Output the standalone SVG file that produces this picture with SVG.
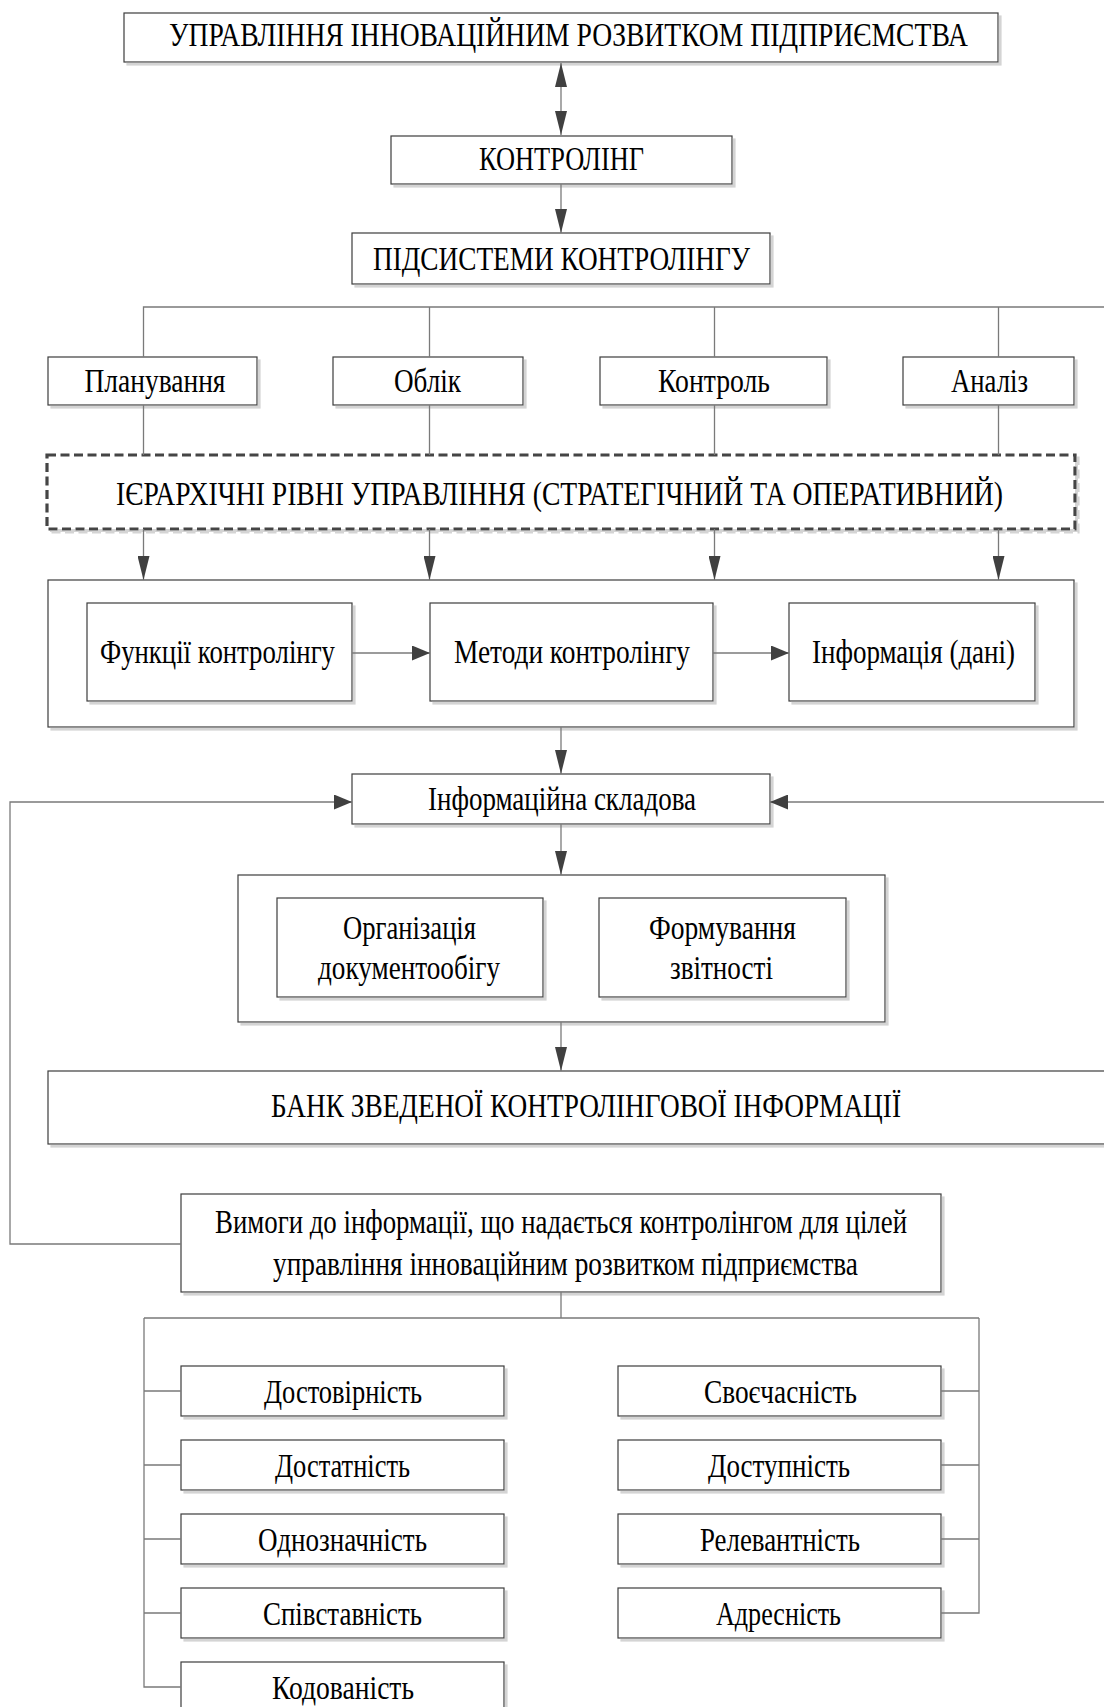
<svg xmlns="http://www.w3.org/2000/svg" width="1104" height="1707" viewBox="0 0 1104 1707">
<style>
  .bx{fill:#fff;stroke:#3c3c3c;stroke-width:1.2;filter:url(#sh)}
  .dash{fill:#fff;stroke:#454545;stroke-width:3.2;stroke-dasharray:9 4.5;filter:url(#sh)}
  .t{font-family:"Liberation Serif","Times New Roman",serif;font-size:33px;fill:#000}
  .c{fill:none;stroke:#7a7a7a;stroke-width:1.3}
  .av{marker-end:url(#mv)}
  .ah{marker-end:url(#mh)}
</style>
<defs>
  <filter id="sh" x="-5%" y="-5%" width="110%" height="130%">
    <feFlood flood-color="#d4d4d4" result="f"/>
    <feComposite in="f" in2="SourceAlpha" operator="in" result="s"/>
    <feOffset in="s" dx="3" dy="3" result="o"/>
    <feMerge><feMergeNode in="o"/><feMergeNode in="SourceGraphic"/></feMerge>
  </filter>
  <marker id="mv" markerUnits="userSpaceOnUse" markerWidth="24" markerHeight="12" refX="24" refY="6" orient="auto">
    <path d="M0,0 L24,6 L0,12 z" fill="#404040"/>
  </marker>
  <marker id="mvs" markerUnits="userSpaceOnUse" markerWidth="24" markerHeight="12" refX="24" refY="6" orient="auto-start-reverse">
    <path d="M0,0 L24,6 L0,12 z" fill="#404040"/>
  </marker>
  <marker id="mh" markerUnits="userSpaceOnUse" markerWidth="18" markerHeight="15" refX="18" refY="7.5" orient="auto">
    <path d="M0,0 L18,7.5 L0,15 z" fill="#404040"/>
  </marker>
</defs>
<rect width="1104" height="1707" fill="#fff"/>

<g id="n-top"><rect class="bx" x="124" y="13" width="874" height="49"/><text class="t" transform="scale(0.8,1)" x="211.25" y="46" textLength="998.75" lengthAdjust="spacingAndGlyphs">УПРАВЛІННЯ ІННОВАЦІЙНИМ РОЗВИТКОМ ПІДПРИЄМСТВА</text></g>
<g id="n-kontroling"><rect class="bx" x="391" y="136" width="341" height="48"/><text class="t" x="479" y="170" textLength="165" lengthAdjust="spacingAndGlyphs">КОНТРОЛІНГ</text></g>
<g id="n-pidsystemy"><rect class="bx" x="352" y="233" width="418" height="51"/><text class="t" x="373" y="270" textLength="377" lengthAdjust="spacingAndGlyphs">ПІДСИСТЕМИ КОНТРОЛІНГУ</text></g>

<g id="n-planuvannia"><rect class="bx" x="48" y="357" width="209" height="48"/><text class="t" x="84.5" y="392" textLength="141" lengthAdjust="spacingAndGlyphs">Планування</text></g>
<g id="n-oblik"><rect class="bx" x="333" y="357" width="190" height="48"/><text class="t" x="394" y="392" textLength="67" lengthAdjust="spacingAndGlyphs">Облік</text></g>
<g id="n-kontrol"><rect class="bx" x="600" y="357" width="227" height="48"/><text class="t" x="658" y="392" textLength="112" lengthAdjust="spacingAndGlyphs">Контроль</text></g>
<g id="n-analiz"><rect class="bx" x="903" y="357" width="171" height="48"/><text class="t" x="951" y="392" textLength="77" lengthAdjust="spacingAndGlyphs">Аналіз</text></g>

<g id="n-ierarkhia"><rect class="dash" x="47" y="455" width="1028" height="74"/><text class="t" transform="scale(0.8,1)" x="145" y="505" textLength="1108.75" lengthAdjust="spacingAndGlyphs">ІЄРАРХІЧНІ РІВНІ УПРАВЛІННЯ (СТРАТЕГІЧНИЙ ТА ОПЕРАТИВНИЙ)</text></g>

<g id="n-container1"><rect class="bx" x="48" y="580" width="1026" height="147"/></g>
<g id="n-funkcii"><rect class="bx" x="87" y="603" width="265" height="98"/><text class="t" x="100" y="663" textLength="235" lengthAdjust="spacingAndGlyphs">Функції контролінгу</text></g>
<g id="n-metody"><rect class="bx" x="430" y="603" width="283" height="98"/><text class="t" x="454" y="663" textLength="236" lengthAdjust="spacingAndGlyphs">Методи контролінгу</text></g>
<g id="n-informatsiia"><rect class="bx" x="789" y="603" width="246" height="98"/><text class="t" x="812" y="663" textLength="203" lengthAdjust="spacingAndGlyphs">Інформація (дані)</text></g>

<g id="n-infoskladova"><rect class="bx" x="352" y="774" width="418" height="50"/><text class="t" x="428" y="810" textLength="268" lengthAdjust="spacingAndGlyphs">Інформаційна складова</text></g>

<g id="n-container2"><rect class="bx" x="238" y="875" width="647" height="147"/></g>
<g id="n-organizatsiia"><rect class="bx" x="277" y="898" width="266" height="99"/><text class="t" x="343" y="939" textLength="133" lengthAdjust="spacingAndGlyphs">Організація</text><text class="t" x="318" y="979" textLength="182" lengthAdjust="spacingAndGlyphs">документообігу</text></g>
<g id="n-formuvannia"><rect class="bx" x="599" y="898" width="247" height="99"/><text class="t" x="649" y="939" textLength="147" lengthAdjust="spacingAndGlyphs">Формування</text><text class="t" x="670" y="979" textLength="103" lengthAdjust="spacingAndGlyphs">звітності</text></g>

<g id="n-bank"><rect class="bx" x="48" y="1071" width="1070" height="73"/><text class="t" x="271" y="1117" textLength="630" lengthAdjust="spacingAndGlyphs">БАНК ЗВЕДЕНОЇ КОНТРОЛІНГОВОЇ ІНФОРМАЦІЇ</text></g>

<g id="n-vymogy"><rect class="bx" x="181" y="1194" width="760" height="98"/><text class="t" x="215" y="1233" textLength="692" lengthAdjust="spacingAndGlyphs">Вимоги до інформації, що надається контролінгом для цілей</text><text class="t" x="273" y="1275" textLength="585" lengthAdjust="spacingAndGlyphs">управління інноваційним розвитком підприємства</text></g>

<g id="n-dostovirnist"><rect class="bx" x="181" y="1366" width="323" height="50"/><text class="t" x="264" y="1403" textLength="158" lengthAdjust="spacingAndGlyphs">Достовірність</text></g>
<g id="n-dostatnist"><rect class="bx" x="181" y="1440" width="323" height="50"/><text class="t" x="275" y="1477" textLength="135" lengthAdjust="spacingAndGlyphs">Достатність</text></g>
<g id="n-odnoznachnist"><rect class="bx" x="181" y="1514" width="323" height="50"/><text class="t" x="258" y="1551" textLength="169" lengthAdjust="spacingAndGlyphs">Однозначність</text></g>
<g id="n-spivstavnist"><rect class="bx" x="181" y="1588" width="323" height="50"/><text class="t" x="263" y="1625" textLength="159" lengthAdjust="spacingAndGlyphs">Співставність</text></g>
<g id="n-kodovanist"><rect class="bx" x="181" y="1662" width="323" height="50"/><text class="t" x="272" y="1699" textLength="142" lengthAdjust="spacingAndGlyphs">Кодованість</text></g>

<g id="n-svoiechasnist"><rect class="bx" x="618" y="1366" width="323" height="50"/><text class="t" x="704" y="1403" textLength="153" lengthAdjust="spacingAndGlyphs">Своєчасність</text></g>
<g id="n-dostupnist"><rect class="bx" x="618" y="1440" width="323" height="50"/><text class="t" x="708" y="1477" textLength="142" lengthAdjust="spacingAndGlyphs">Доступність</text></g>
<g id="n-relevantnist"><rect class="bx" x="618" y="1514" width="323" height="50"/><text class="t" x="700" y="1551" textLength="160" lengthAdjust="spacingAndGlyphs">Релевантність</text></g>
<g id="n-adresnist"><rect class="bx" x="618" y="1588" width="323" height="50"/><text class="t" x="716" y="1625" textLength="125" lengthAdjust="spacingAndGlyphs">Адресність</text></g>

<g id="connectors">
  <path class="c" d="M561,63 V135" marker-start="url(#mvs)" marker-end="url(#mv)"/>
  <path class="c av" d="M561,184 V233"/>
  <path class="c" d="M143.5,357 V307 H1110 M429.5,307 V357 M714.5,307 V357 M998.5,307 V357"/>
  <path class="c" d="M143.5,405 V455 M429.5,405 V455 M714.5,405 V455 M998.5,405 V455"/>
  <path class="c av" d="M143.5,529 V580"/>
  <path class="c av" d="M429.5,529 V580"/>
  <path class="c av" d="M714.5,529 V580"/>
  <path class="c av" d="M998.5,529 V580"/>
  <path class="c ah" d="M352,653 H430"/>
  <path class="c ah" d="M713,653 H789"/>
  <path class="c av" d="M561,727 V774"/>
  <path class="c ah" d="M181,1244 H10 V802 H352"/>
  <path class="c ah" d="M1110,802 H770"/>
  <path class="c av" d="M561,824 V875"/>
  <path class="c av" d="M561,1022 V1071"/>
  <path class="c" d="M561,1292 V1318 M144,1318 H979"/>
  <path class="c" d="M144,1318 V1687 H181 M144,1391 H181 M144,1465 H181 M144,1539 H181 M144,1613 H181"/>
  <path class="c" d="M979,1318 V1613 H941 M941,1391 H979 M941,1465 H979 M941,1539 H979"/>
</g>
</svg>
